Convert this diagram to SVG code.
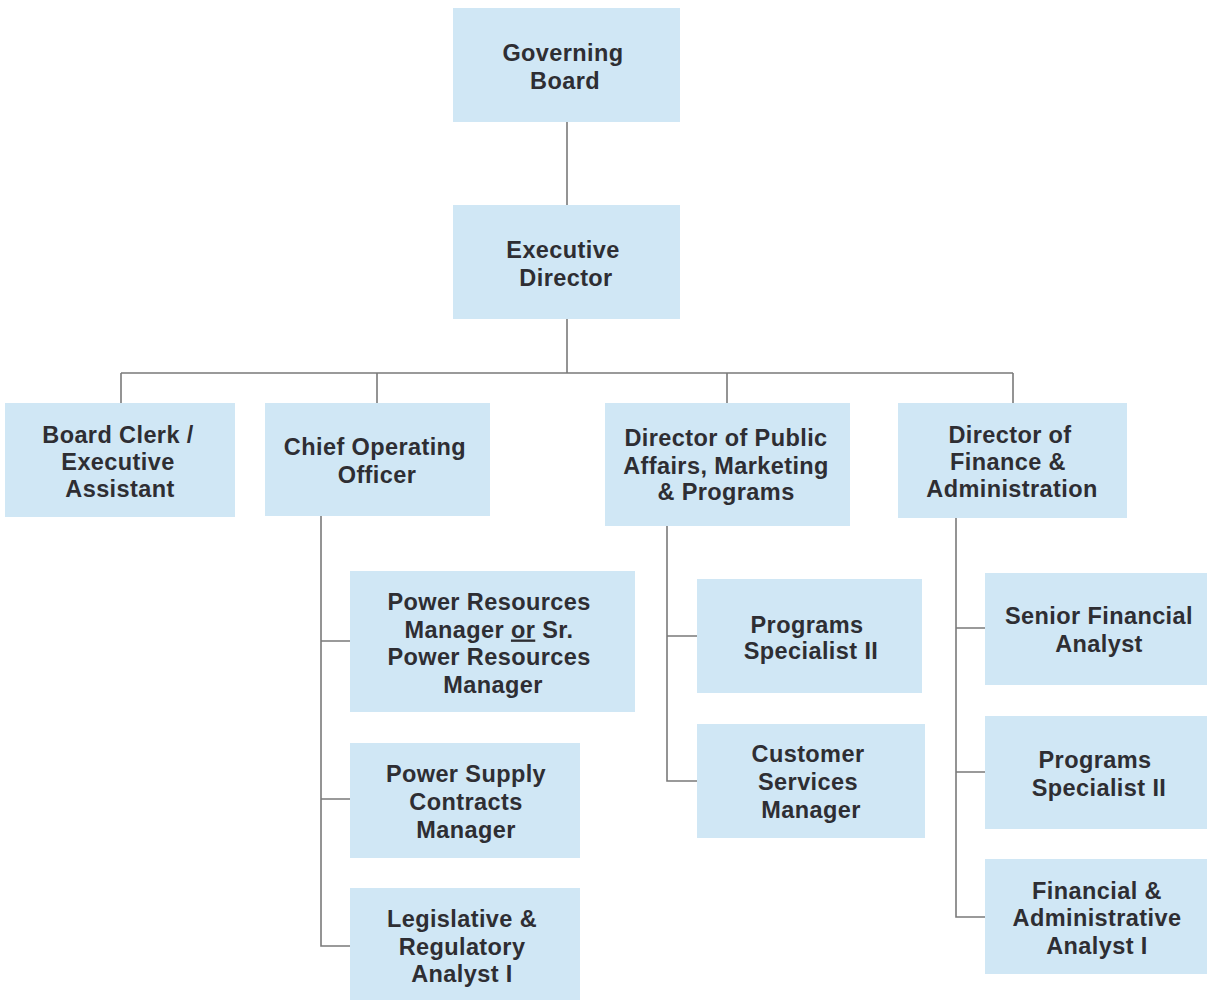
<svg xmlns="http://www.w3.org/2000/svg" width="1207" height="1000" viewBox="0 0 1207 1000">
<style>
.box{fill:#d0e7f5;}
.t{font-family:"Liberation Sans",Arial,sans-serif;font-weight:bold;font-size:23.5px;letter-spacing:0.4px;fill:#2e2e33;text-anchor:middle;}
.c{fill:none;stroke:#7a7a7a;stroke-width:1.6;}
</style>
<rect width="1207" height="1000" fill="#ffffff"/>
<g id="connectors">
<path class="c" d="M567 121V205M567 319V373M121 373H1013M121 373V403M377 373V403M727 373V403M1013 373V403"/>
<path class="c" d="M321 516V946H350M321 641H350M321 799H350"/>
<path class="c" d="M667 526V781H697M667 636H697"/>
<path class="c" d="M956 518V917H985M956 628H985M956 772H985"/>
</g>
<g id="governing-board"><rect class="box" x="453" y="8" width="227" height="114"/>
<text class="t" x="563" y="60.5">Governing</text><text class="t" x="565" y="88.5">Board</text></g>
<g id="executive-director"><rect class="box" x="453" y="205" width="227" height="114"/>
<text class="t" x="563" y="257.5">Executive</text><text class="t" x="566" y="285.5">Director</text></g>
<g id="board-clerk"><rect class="box" x="5" y="403" width="230" height="114"/>
<text class="t" x="118" y="442.5">Board Clerk /</text><text class="t" x="118" y="469.5">Executive</text><text class="t" x="120" y="496.5">Assistant</text></g>
<g id="coo"><rect class="box" x="265" y="403" width="225" height="113"/>
<text class="t" x="375" y="454.5">Chief Operating</text><text class="t" x="377" y="482.5">Officer</text></g>
<g id="dir-public"><rect class="box" x="605" y="403" width="245" height="123"/>
<text class="t" x="726" y="445.5">Director of Public</text><text class="t" x="726" y="473.5">Affairs, Marketing</text><text class="t" x="726" y="499.5">&amp; Programs</text></g>
<g id="dir-finance"><rect class="box" x="898" y="403" width="229" height="115"/>
<text class="t" x="1010" y="442.5">Director of</text><text class="t" x="1008" y="469.5">Finance &amp;</text><text class="t" x="1012" y="496.5">Administration</text></g>
<g id="power-resources"><rect class="box" x="350" y="571" width="285" height="141"/>
<text class="t" x="489" y="609.5">Power Resources</text><text class="t" x="489" y="637.5">Manager <tspan text-decoration="underline">or</tspan> Sr.</text><text class="t" x="489" y="664.5">Power Resources</text><text class="t" x="493" y="692.5">Manager</text></g>
<g id="power-supply"><rect class="box" x="350" y="743" width="230" height="115"/>
<text class="t" x="466" y="781.5">Power Supply</text><text class="t" x="466" y="809.5">Contracts</text><text class="t" x="466" y="837.5">Manager</text></g>
<g id="legislative"><rect class="box" x="350" y="888" width="230" height="112"/>
<text class="t" x="462" y="926.5">Legislative &amp;</text><text class="t" x="462" y="954.5">Regulatory</text><text class="t" x="462" y="981.5">Analyst I</text></g>
<g id="programs-specialist-1"><rect class="box" x="697" y="579" width="225" height="114"/>
<text class="t" x="807" y="632.5">Programs</text><text class="t" x="811" y="658.5">Specialist II</text></g>
<g id="customer-services"><rect class="box" x="697" y="724" width="228" height="114"/>
<text class="t" x="808" y="761.5">Customer</text><text class="t" x="808" y="789.5">Services</text><text class="t" x="811" y="817.5">Manager</text></g>
<g id="senior-financial"><rect class="box" x="985" y="573" width="222" height="112"/>
<text class="t" x="1099" y="623.5">Senior Financial</text><text class="t" x="1099" y="651.5">Analyst</text></g>
<g id="programs-specialist-2"><rect class="box" x="985" y="716" width="222" height="113"/>
<text class="t" x="1095" y="767.5">Programs</text><text class="t" x="1099" y="795.5">Specialist II</text></g>
<g id="financial-admin"><rect class="box" x="985" y="859" width="222" height="115"/>
<text class="t" x="1097" y="898.5">Financial &amp;</text><text class="t" x="1097" y="925.5">Administrative</text><text class="t" x="1097" y="953.5">Analyst I</text></g>
</svg>
